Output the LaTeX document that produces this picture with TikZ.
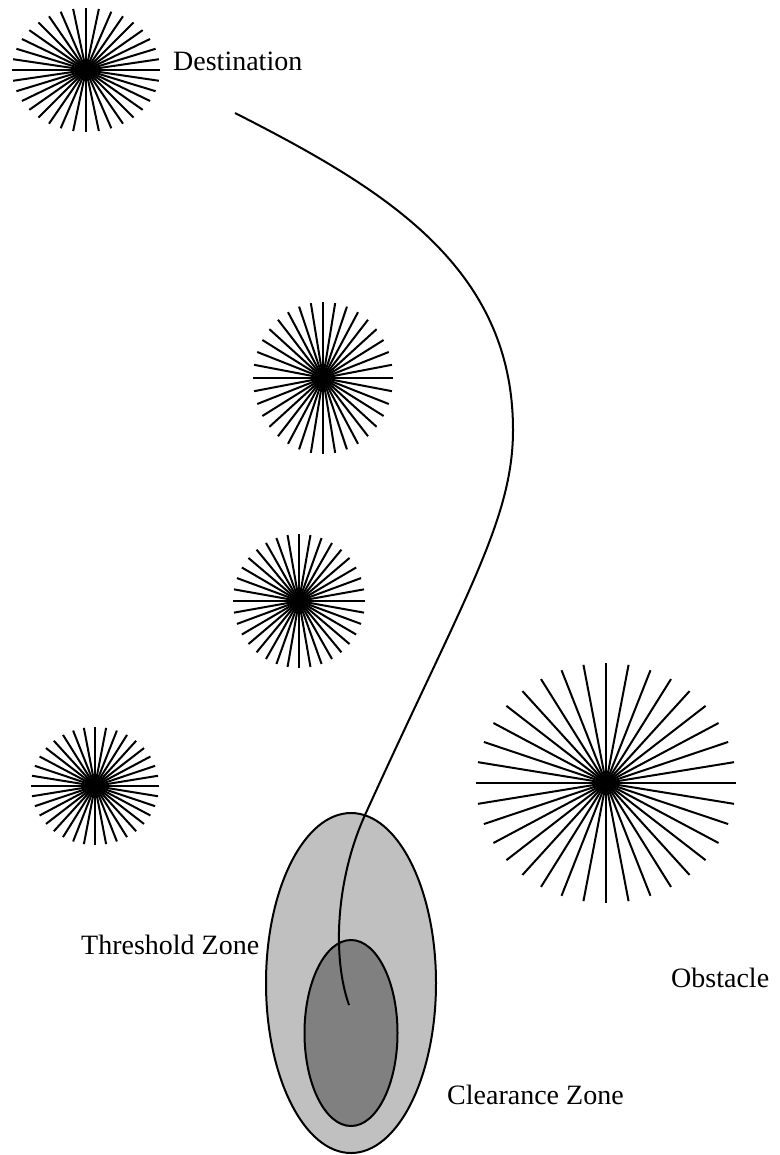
\documentclass[tikz,border=0pt]{standalone}
\usepackage{fontspec}
\setmainfont{Liberation Serif}
\usepackage{xcolor}
\usetikzlibrary{positioning,shapes.geometric}
\definecolor{zonelight}{RGB}{192,192,192}
\definecolor{zonedark}{RGB}{128,128,128}
\tikzset{
  zonelabel/.style={
    inner sep=0pt,
    anchor=west,
    font=\fontsize{28}{34}\selectfont
  },
  burstray/.style={
    line width=2pt,
    draw=black
  },
  zoneline/.style={
    ellipse,
    line width=2pt,
    draw=black,
    inner sep=0pt
  },
  pathline/.style={
    line width=2pt,
    draw=black
  }
}
\begin{document}
\begin{tikzpicture}[x=1pt, y=-1pt]
\useasboundingbox (0,0) rectangle (779,1155);

% obstacle bursts: centre x / centre y / radius x / radius y
\foreach \cx/\cy/\rx/\ry in {86/70/74/62, 323/378/70/76, 299/601/66/67, 95/786/64/59, 606/783/130/120}{
  \foreach \a in {0,10,...,170}{
    \draw[burstray] ({\cx+\rx*cos(\a)},{\cy+\ry*sin(\a)}) -- ({\cx-\rx*cos(\a)},{\cy-\ry*sin(\a)});
  }
}

% zones
\node[zoneline, fill=zonelight, minimum width=170pt, minimum height=340pt] (threshold) at (351,983) {};
\node[zoneline, fill=zonedark, minimum width=93pt, minimum height=186pt] (clearance) at (351,1033) {};

% path of the vehicle
\coordinate (pathstart) at (235,113);
\coordinate (pathturn) at (513,430);
\coordinate (pathentry) at (365,815);
\coordinate (pathend) at (349,1005);
\draw[pathline] (pathstart) to[out=-27, in=90] (pathturn)
  .. controls (513,520) and (464,597) .. (pathentry)
  .. controls (336,879) and (332,957) .. (pathend);

% labels
\node[zonelabel] (destlabel) at (173,61) {Destination};
\node[zonelabel] (thresholdlabel) at (81,945) {Threshold Zone};
\node[zonelabel] (obstaclelabel) at (671,978) {Obstacle};
\node[zonelabel] (clearancelabel) at (447,1095) {Clearance Zone};
\end{tikzpicture}
\end{document}
